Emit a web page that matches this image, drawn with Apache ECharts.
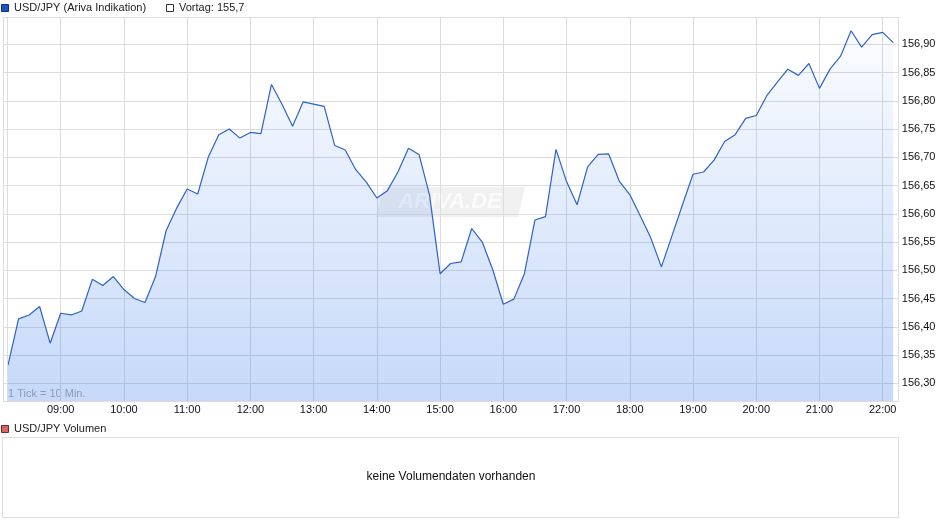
<!DOCTYPE html>
<html><head><meta charset="utf-8">
<script src="https://cdn.jsdelivr.net/npm/echarts@6/dist/echarts.min.js"></script>
<style>html,body{margin:0;padding:0;background:#fff}#c{width:940px;height:526px}</style>
</head><body><div id="c"></div>
<script>
// ---- data ----
const times = ["08:10","08:20","08:30","08:40","08:50",
"09:00","09:10","09:20","09:30","09:40","09:50",
"10:00","10:10","10:20","10:30","10:40","10:50",
"11:00","11:10","11:20","11:30","11:40","11:50",
"12:00","12:10","12:20","12:30","12:40","12:50",
"13:00","13:10","13:20","13:30","13:40","13:50",
"14:00","14:10","14:20","14:30","14:40","14:50",
"15:00","15:10","15:20","15:30","15:40","15:50",
"16:00","16:10","16:20","16:30","16:40","16:50",
"17:00","17:10","17:20","17:30","17:40","17:50",
"18:00","18:10","18:20","18:30","18:40","18:50",
"19:00","19:10","19:20","19:30","19:40","19:50",
"20:00","20:10","20:20","20:30","20:40","20:50",
"21:00","21:10","21:20","21:30","21:40","21:50",
"22:00","22:10"];
const prices = [156.332,156.414,156.421,156.436,156.371,
156.424,156.421,156.428,156.484,156.473,156.489,
156.466,156.450,156.443,156.489,156.570,156.610,
156.644,156.635,156.700,156.740,156.750,156.734,
156.744,156.742,156.829,156.794,156.755,156.798,
156.794,156.790,156.721,156.713,156.678,156.656,
156.628,156.641,156.674,156.716,156.705,156.633,
156.494,156.512,156.515,156.574,156.550,156.501,
156.440,156.449,156.494,156.589,156.595,156.714,
156.657,156.616,156.683,156.705,156.706,156.658,
156.634,156.596,156.557,156.506,156.561,156.616,
156.670,156.674,156.695,156.728,156.740,156.769,
156.774,156.809,156.833,156.856,156.845,156.866,
156.822,156.856,156.879,156.924,156.895,156.917,
156.921,156.903];
const yTicks = [156.30,156.35,156.40,156.45,156.50,156.55,156.60,156.65,156.70,156.75,156.80,156.85,156.90];
const xTickLabels = ["09:00","10:00","11:00","12:00","13:00","14:00","15:00","16:00","17:00","18:00","19:00","20:00","21:00","22:00"];
const seriesName = 'USD/JPY (Ariva Indikation)';
const prevCloseText = 'Vortag: 155,7';
const volumeName = 'USD/JPY Volumen';
const volumeNote = 'keine Volumendaten vorhanden';
const tickNote = '1 Tick = 10 Min.';

// ---- helpers ----
const toMin = t => { const p = t.split(':'); return (+p[0]) * 60 + (+p[1]); };
const pad = n => (n < 10 ? '0' : '') + n;
const fmtTime = v => pad(Math.floor(v / 60)) + ':' + pad(Math.round(v % 60));
const xTickValues = xTickLabels.map(toMin);
const data = times.map((t, i) => [toMin(t), prices[i]]);
const FONT = '"Liberation Sans", Arial, sans-serif';
const GRID = '#dcdcdc';

const chart = echarts.init(document.getElementById('c'), null, {renderer: 'canvas'});
chart.setOption({
  animation: false,
  backgroundColor: '#fff',
  grid: {left: 3, right: 41.7, top: 17, bottom: 125, containLabel: false},
  xAxis: {
    type: 'value', min: 485.25, max: 1334.8,
    minInterval: 60, maxInterval: 60, splitNumber: 14,
    axisLine: {show: false}, axisTick: {show: false},
    splitLine: {show: true, lineStyle: {color: GRID, width: 1}},
    axisLabel: {
      fontSize: 11, color: '#111', fontFamily: FONT, margin: 3,
      formatter: v => xTickValues.some(t => Math.abs(t - v) < 1e-6) ? fmtTime(v) : ''
    }
  },
  yAxis: {
    type: 'value', position: 'right', scale: true,
    min: 156.2687, max: 156.9483,
    minInterval: 0.05, maxInterval: 0.05, splitNumber: 14,
    axisLine: {show: false}, axisTick: {show: false},
    splitLine: {show: true, lineStyle: {color: GRID, width: 1}},
    axisLabel: {
      fontSize: 11, color: '#111', fontFamily: FONT, margin: 3.5,
      formatter: v => yTicks.some(t => Math.abs(t - v) < 1e-6) ? v.toFixed(2).replace('.', ',') : ''
    }
  },
  series: [{
    type: 'line', name: seriesName, data: data,
    symbol: 'none', smooth: false,
    lineStyle: {color: '#2f62c8', width: 1.2},
    areaStyle: {
      color: new echarts.graphic.LinearGradient(0, 17, 0, 401, [
        {offset: 0, color: 'rgba(60,125,235,0.02)'},
        {offset: 0.5, color: 'rgba(60,125,235,0.22)'},
        {offset: 1, color: 'rgba(60,125,235,0.42)'}
      ], true)
    },
    markLine: {
      silent: true, symbol: 'none', label: {show: false},
      lineStyle: {color: GRID, type: 'solid', width: 1},
      data: [{xAxis: toMin(times[0]) - 0.7}]
    }
  }],
  graphic: [
    {type: 'rect', shape: {x: 1.5, y: 4.5, width: 7, height: 7}, style: {fill: '#1f52c4', stroke: '#0e2f7a', lineWidth: 1}},
    {type: 'text', x: 14, y: 8, style: {text: seriesName, font: '11px ' + FONT, fill: '#222', verticalAlign: 'middle'}},
    {type: 'rect', shape: {x: 166.5, y: 4.5, width: 7, height: 7}, style: {fill: '#fff', stroke: '#333', lineWidth: 1}},
    {type: 'text', x: 179, y: 8, style: {text: prevCloseText, font: '11px ' + FONT, fill: '#222', verticalAlign: 'middle'}},
    {type: 'text', x: 8, y: 394, style: {text: tickNote, font: '11px ' + FONT, fill: '#a8a8a8', verticalAlign: 'middle'}},
    {type: 'polygon', shape: {points: [[383, 187], [525, 187], [518, 217], [376, 217]]}, style: {fill: 'rgba(185,185,185,0.22)'}},
    {type: 'text', x: 450, y: 202, style: {text: 'ARIVA.DE', font: 'italic bold 22px ' + FONT, fill: 'rgba(255,255,255,0.75)', align: 'center', verticalAlign: 'middle'}},
    {type: 'rect', shape: {x: 1.5, y: 425.5, width: 7, height: 7}, style: {fill: '#d96464', stroke: '#7a2626', lineWidth: 1}},
    {type: 'text', x: 14, y: 429, style: {text: volumeName, font: '11px ' + FONT, fill: '#222', verticalAlign: 'middle'}},
    {type: 'rect', shape: {x: 2.5, y: 437.5, width: 896, height: 80}, style: {fill: 'none', stroke: '#dddddd', lineWidth: 1}},
    {type: 'text', x: 451, y: 477, style: {text: volumeNote, font: '12px ' + FONT, fill: '#111', align: 'center', verticalAlign: 'middle'}}
  ]
});
</script>
</body></html>
